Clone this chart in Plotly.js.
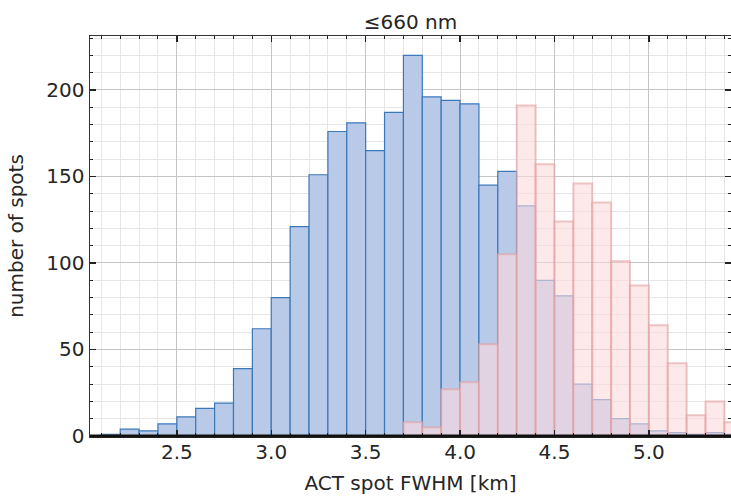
<!DOCTYPE html>
<html>
<head>
<meta charset="utf-8">
<script src="https://cdn.plot.ly/plotly-3.0.1.min.js"></script>
<style>html,body{margin:0;padding:0;background:#fff;}#chart{width:731px;height:497px;}</style>
</head>
<body>
<div id="chart"></div>
<script>
// bin left edges [km] and counts
const blueBins = [2.1,2.2,2.3,2.4,2.5,2.6,2.7,2.8,2.9,3.0,3.1,3.2,3.3,3.4,3.5,3.6,3.7,3.8,3.9,4.0,4.1,4.2,4.3,4.4,4.5,4.6,4.7,4.8,4.9,5.0,5.1,5.2,5.3,5.4];
const blueCounts = [1,4,3,7,11,16,19,39,62,80,121,151,176,181,165,187,220,196,194,192,145,153,133,90,81,30,21,10,7,3,2,1,2,1];
const pinkBins = [3.7,3.8,3.9,4.0,4.1,4.2,4.3,4.4,4.5,4.6,4.7,4.8,4.9,5.0,5.1,5.2,5.3,5.4];
const pinkCounts = [8,5,27,31,53,105,191,157,124,146,135,101,87,64,42,12,20,8];
const binWidth = 0.1;
const xTickVals = [2.5,3.0,3.5,4.0,4.5,5.0];
const xTickText = ["2.5","3.0","3.5","4.0","4.5","5.0"];
const yTickVals = [0,50,100,150,200];
const yTickText = ["0","50","100","150","200"];

const FAM = "DejaVu Sans, sans-serif";
const TXT = "#262626";
const FS = 20;

const traces = [
  {
    type: "bar", x: blueBins, y: blueCounts, width: binWidth, offset: 0,
    marker: {color: "#b9c9e8", line: {color: "#3b78b8", width: 1.2}},
    hoverinfo: "x+y"
  },
  {
    type: "bar", x: pinkBins, y: pinkCounts, width: binWidth, offset: 0,
    marker: {color: "rgba(252,218,220,0.6)", line: {color: "rgba(228,160,160,0.6)", width: 2}},
    hoverinfo: "x+y"
  }
];

const layout = {
  width: 731, height: 497,
  margin: {l: 90, r: 0, t: 36, b: 61},
  paper_bgcolor: "#fff", plot_bgcolor: "#fff",
  font: {family: FAM, size: FS, color: TXT},
  showlegend: false,
  barmode: "overlay", bargap: 0,
  title: {text: "≤660 nm", font: {family: FAM, size: FS, color: TXT}, x: 0.5, xref: "paper", yref: "container", y: 0.956, yanchor: "middle"},
  xaxis: {
    range: [2.04, 5.435],
    tickvals: xTickVals, ticktext: xTickText,
    ticks: "inside", ticklen: 6, tickwidth: 1.5, tickcolor: "#222",
    ticklabelstandoff: -3,
    showgrid: true, gridcolor: "#c4c4c4", gridwidth: 1,
    minor: {dtick: 0.1, tick0: 0, ticks: "inside", ticklen: 3, tickwidth: 1, tickcolor: "#222", showgrid: true, gridcolor: "#e6e6e6", gridwidth: 1},
    showline: true, linecolor: "#333", linewidth: 1.5, mirror: "allticks",
    zeroline: false,
    tickfont: {family: FAM, size: FS, color: TXT},
    title: {text: "ACT spot FWHM [km]", font: {family: FAM, size: FS, color: TXT}, standoff: 13}
  },
  yaxis: {
    range: [0, 231.2],
    tickvals: yTickVals, ticktext: yTickText,
    ticks: "inside", ticklen: 6, tickwidth: 1.5, tickcolor: "#222",
    showgrid: true, gridcolor: "#c4c4c4", gridwidth: 1,
    minor: {dtick: 10, tick0: 0, ticks: "inside", ticklen: 3, tickwidth: 1, tickcolor: "#222", showgrid: true, gridcolor: "#e6e6e6", gridwidth: 1},
    showline: true, linecolor: "#333", linewidth: 1.5, mirror: "allticks",
    zeroline: false,
    tickfont: {family: FAM, size: FS, color: TXT},
    title: {text: "number of spots", font: {family: FAM, size: FS, color: TXT}, standoff: 17}
  },
  shapes: [
    {type: "line", xref: "paper", yref: "paper", x0: 0, x1: 1, y0: 0, y1: 0, line: {color: "#111", width: 3}}
  ]
};

Plotly.newPlot("chart", traces, layout, {displayModeBar: false, staticPlot: true});
</script>
</body>
</html>
